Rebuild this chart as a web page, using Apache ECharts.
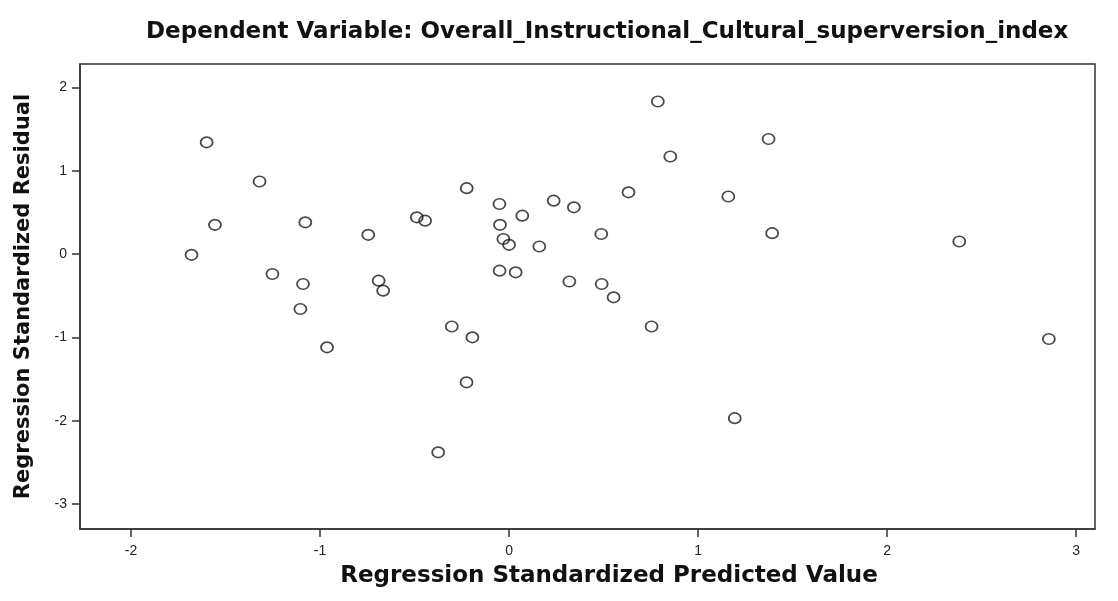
<!DOCTYPE html>
<html>
<head>
<meta charset="utf-8">
<title>Residual scatterplot</title>
<script src="https://cdn.jsdelivr.net/npm/echarts@6/dist/echarts.min.js"></script>
<style>
  html, body { margin: 0; padding: 0; background: #ffffff; }
  #chart { width: 1118px; height: 601px; }
</style>
</head>
<body>
<div id="chart"></div>
<script>
// Regression standardized predicted values (x) and standardized residuals (y)
const predicted = [
  -1.60, -1.32, -1.556, -1.078, -1.68, -0.745, -0.488, -0.444, -0.224, -0.051,
   0.07, -0.048, -0.03, 0.0, 0.16, -1.252, -1.09, -0.69, -0.666, -0.05,
   0.035, -1.104, -0.963, -0.303, -0.194, -0.225, -0.375, 0.787, 1.373, 0.853,
   0.632, 1.16, 0.236, 0.343, 0.488, 1.392, 2.382, 0.319, 0.49, 0.553,
   0.754, 1.194, 2.856
];
const residual = [
   1.34, 0.87, 0.35, 0.38, -0.01, 0.23, 0.44, 0.40, 0.79, 0.60,
   0.46, 0.35, 0.18, 0.11, 0.09, -0.24, -0.36, -0.32, -0.44, -0.20,
  -0.22, -0.66, -1.12, -0.87, -1.00, -1.54, -2.38, 1.83, 1.38, 1.17,
   0.74, 0.69, 0.64, 0.56, 0.24, 0.25, 0.15, -0.33, -0.36, -0.52,
  -0.87, -1.97, -1.02
];

// Axis tick labels
const xTicks = [-2, -1, 0, 1, 2, 3];
const yTicks = [-3, -2, -1, 0, 1, 2];

const titleText = 'Dependent Variable: Overall_Instructional_Cultural_superversion_index';
const xName = 'Regression Standardized Predicted Value';
const yName = 'Regression Standardized Residual';

const points = predicted.map((x, i) => [x, residual[i]]);

const chart = echarts.init(document.getElementById('chart'), null, { renderer: 'canvas' });

const boldFont = {
  fontFamily: 'DejaVu Sans',
  fontWeight: 'bold',
  fontSize: 23,
  color: '#111'
};

chart.setOption({
  backgroundColor: '#ffffff',
  animation: false,
  title: {
    text: titleText,
    left: 141,
    top: 16,
    padding: 5,
    textStyle: boldFont
  },
  grid: {
    left: 80,
    right: 23,
    top: 64,
    bottom: 72,
    show: true,
    backgroundColor: '#ffffff',
    borderColor: '#333',
    borderWidth: 1.5
  },
  xAxis: {
    type: 'value',
    min: -2.27,
    max: 3.1,
    name: xName,
    nameLocation: 'middle',
    nameGap: 36,
    nameTextStyle: Object.assign({}, boldFont, { padding: [0, 0, 0, 43] }),
    axisLine: { show: true, onZero: false, lineStyle: { color: '#333', width: 1.5 } },
    axisTick: { show: true, length: 8, customValues: xTicks, lineStyle: { color: '#333', width: 1.5 } },
    axisLabel: {
      customValues: xTicks,
      margin: 15,
      fontFamily: 'Liberation Sans',
      fontSize: 14,
      color: '#222'
    },
    splitLine: { show: false }
  },
  yAxis: {
    type: 'value',
    min: -3.3,
    max: 2.28,
    name: yName,
    nameLocation: 'middle',
    nameGap: 46,
    nameTextStyle: Object.assign({}, boldFont, { fontSize: 21 }),
    axisLine: { show: true, onZero: false, lineStyle: { color: '#333', width: 1.5 } },
    axisTick: { show: true, length: 8, customValues: yTicks, lineStyle: { color: '#333', width: 1.5 } },
    axisLabel: {
      customValues: yTicks,
      margin: 13,
      fontFamily: 'Liberation Sans',
      fontSize: 14,
      color: '#222'
    },
    splitLine: { show: false }
  },
  series: [{
    type: 'scatter',
    data: points,
    symbol: 'circle',
    symbolSize: [12, 10.5],
    itemStyle: {
      color: 'rgba(0,0,0,0)',
      borderColor: '#1a1a1a',
      borderWidth: 1.7
    }
  }]
});
</script>
</body>
</html>
